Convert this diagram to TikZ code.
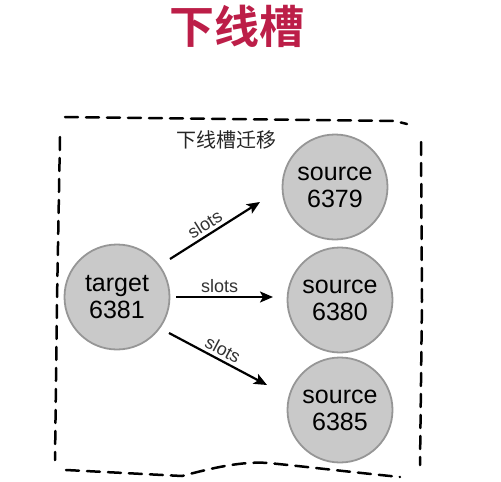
\documentclass[tikz,border=0pt]{standalone}
\usepackage{fontspec}
\setmainfont{Liberation Sans}
\newfontfamily\cjk{Noto Sans CJK SC}[BoldFont={Noto Sans CJK SC Bold}]
\usepackage{tikz}
\usetikzlibrary{shapes,positioning,arrows,arrows.meta,calc}
\definecolor{titlered}{RGB}{188,30,72}
\definecolor{nodefill}{RGB}{201,201,201}
\definecolor{nodeline}{RGB}{150,150,150}
\tikzset{->,>={Stealth[length=13pt,width=11pt,inset=3pt]}}
\tikzset{slotarrow/.style={->,line width=2.2pt},
  slotlabel/.style={font=\fontsize{18}{20}\selectfont,text=black!80,inner sep=3pt},
  border/.style={-,line width=2.5pt,dash pattern=on 13pt off 8pt,line cap=round}}
\newcommand{\drawsrv}{\node[draw=nodeline,fill=nodefill,line width=1.8pt,circle,minimum size=105pt,inner sep=0,align=center,font=\fontsize{25}{27}\selectfont]}

\begin{document}
\begin{tikzpicture}[x=1pt,y=-1pt]
	\useasboundingbox (0,0) rectangle (501,482);
	
	\node[font=\cjk\bfseries\fontsize{45}{47}\selectfont,text=titlered] (title) at (237,26) {下线槽};
	
	% dashed frame
	\draw[border] (65,117) -- (395,121) -- (407,124);
	\draw[border] (421,142) -- (422,300) -- (420,465);
	\draw[border] (60,137) -- (57,300) -- (55,460);
	\draw[border] (66,470) -- (182,476) .. controls (212,468) and (242,461) .. (268,463) .. controls (300,466) and (350,472) .. (400,477);
	\node[font=\cjk\fontsize{20}{22}\selectfont,text=black!85] (frame) at (226,140) {下线槽迁移};
	
	\drawsrv (t81) at (117,297) {target\\6381};
	\drawsrv (s79) at (335,187) {source\\6379};
	\drawsrv (s80) at (340,300) {source\\6380};
	\drawsrv (s85) at (340,410) {source\\6385};
	
	\draw[slotarrow] ($(t81.center)+(53,-38)$) to node [slotlabel,pos=0.45,above,sloped] {slots} ($(s79.center)+(-75,15)$);
	\draw[slotarrow] ($(t81.center)+(59,0)$) to node [slotlabel,pos=0.45,above] {slots} ($(s80.center)+(-67,-3)$);
	\draw[slotarrow] ($(t81.center)+(52,36)$) to node [slotlabel,midway,above,sloped] {slots} ($(s85.center)+(-73,-25)$);
	
\end{tikzpicture}
\end{document}
